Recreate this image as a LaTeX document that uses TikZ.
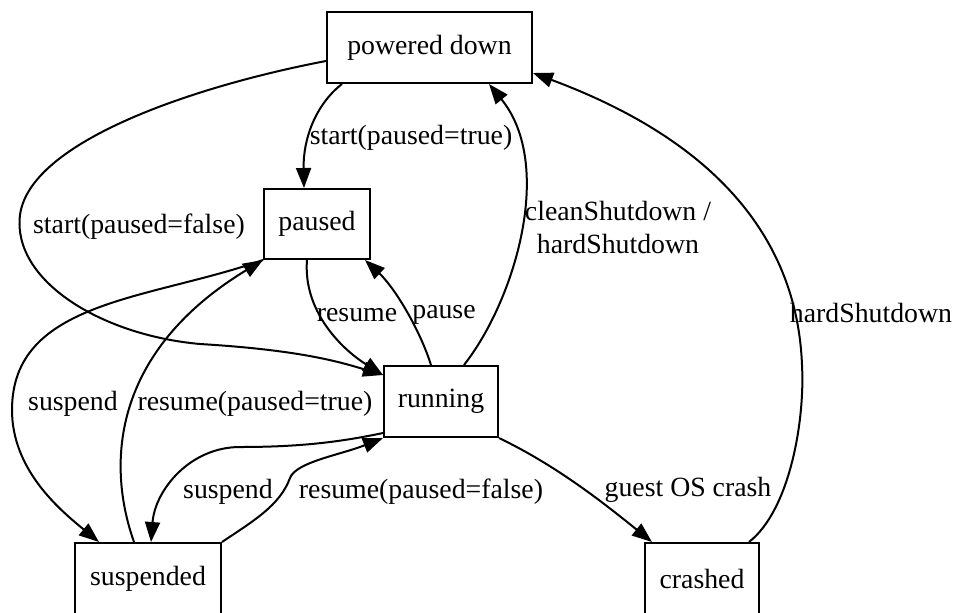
\documentclass[tikz,border=0pt]{standalone}
\usepackage{fontspec}
\setmainfont{Liberation Serif}
\usetikzlibrary{arrows.meta}

\begin{document}
\begin{tikzpicture}[x=0.5pt,y=-0.5pt,line width=1pt,
		state/.style={draw,rectangle,inner sep=0pt,minimum height=35.5pt},
		lbl/.style={inner sep=0pt,align=center},
		tr/.style={-{Triangle[length=10pt,width=7.5pt]}},
		font=\fontsize{13.9}{16.5}\selectfont]
		\useasboundingbox (0,0) rectangle (954,612);
		% states
		\node[state,minimum width=102.5pt] (pd) at (429.5,47.5) {powered down};
		\node[state,minimum width=53pt,minimum height=35pt] (paused) at (317,224) {paused};
		\node[state,minimum width=57pt] (running) at (441,401.5) {running};
		\node[state,minimum width=73pt] (susp) at (148,578.5) {suspended};
		\node[state,minimum width=57pt] (crashed) at (702,578.5) {crashed};
		% transitions
		\draw[tr] ([xshift=8pt]pd.south west) .. controls (315,105) and (303,140) .. ([xshift=20.5pt]paused.north west);
		\draw[tr] ([yshift=-6.75pt]pd.west) .. controls (200,85) and (30,140) .. (20,215) .. controls (12,280) and (100,335) .. (200,344) .. controls (300,350) and (340,362) .. ([yshift=-5pt]running.north west);
		\draw[tr] ([xshift=22pt]paused.south west) .. controls (303,310) and (340,348) .. ([yshift=-5pt]running.north west);
		\draw[tr] ([xshift=24pt]running.north west) .. controls (420,330) and (395,288) .. ([xshift=-3pt]paused.south east);
		\draw[tr] ([xshift=40.5pt]running.north west) .. controls (515,300) and (555,165) .. ([xshift=81.5pt]pd.south west);
		\draw[tr] ([xshift=52.5pt]crashed.north west) .. controls (790,510) and (805,420) .. (802,365) .. controls (798,260) and (740,150) .. ([yshift=5.5pt]pd.south east);
		\draw[tr] (running.south east) .. controls (555,465) and (600,500) .. ([xshift=4pt]crashed.north west);
		\draw[tr] (paused.south west) .. controls (150,300) and (12,300) .. (12,410) .. controls (12,470) and (60,510) .. ([xshift=12.5pt]susp.north west);
		\draw[tr] ([xshift=30pt]susp.north west) .. controls (105,460) and (115,350) .. (paused.south west);
		\draw[tr] ([yshift=2.5pt]running.south west) .. controls (340,442) and (300,447) .. (240,447) .. controls (190,447) and (155,490) .. ([xshift=38.5pt]susp.north west);
		\draw[tr] (susp.north east) .. controls (255,520) and (280,505) .. (290,478) .. controls (296,462) and (340,455) .. (running.south west);
		% labels
		\node[lbl] (lStartT) at (411,138) {start(paused=true)};
		\node[lbl] (lStartF) at (139,227) {start(paused=false)};
		\node[lbl] (lResume) at (357,315) {resume};
		\node[lbl] (lPause) at (444,315) {pause};
		\node[lbl] (lClean) at (618,227) {cleanShutdown /\\hardShutdown};
		\node[lbl] (lHard) at (871,313) {hardShutdown};
		\node[lbl] (lCrash) at (688,490) {guest OS crash};
		\node[lbl] (lSuspA) at (73,404) {suspend};
		\node[lbl] (lResT) at (255,404) {resume(paused=true)};
		\node[lbl] (lSuspB) at (228,492) {suspend};
		\node[lbl] (lResF) at (421,492) {resume(paused=false)};
	\end{tikzpicture}
\end{document}
